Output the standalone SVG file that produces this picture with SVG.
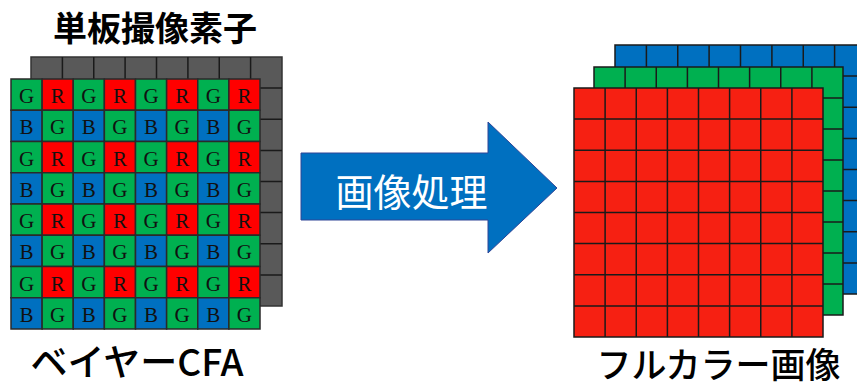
<svg xmlns="http://www.w3.org/2000/svg" xmlns:xlink="http://www.w3.org/1999/xlink" width="857" height="387" viewBox="0 0 857 387">
<style>
.lbl{font-family:"Noto Sans CJK JP","Noto Sans",sans-serif;fill:#000;text-anchor:middle}
.g{fill:#00B050}.r{fill:#FF0000}.b{fill:#0070C0}
.cell{stroke:#2a2a2a;stroke-width:1.5}
.ltr{font-family:"Liberation Serif",serif;font-size:21px;fill:#111;text-anchor:middle}
.grid{fill:none;stroke:#1a1a1a;stroke-width:1.5}
</style>
<defs>
<g id="rowA">
<rect class="cell g" x="11" y="0" width="31.125" height="31.25"/>
<rect class="cell r" x="42.125" y="0" width="31.125" height="31.25"/>
<rect class="cell g" x="73.25" y="0" width="31.125" height="31.25"/>
<rect class="cell r" x="104.375" y="0" width="31.125" height="31.25"/>
<rect class="cell g" x="135.5" y="0" width="31.125" height="31.25"/>
<rect class="cell r" x="166.625" y="0" width="31.125" height="31.25"/>
<rect class="cell g" x="197.75" y="0" width="31.125" height="31.25"/>
<rect class="cell r" x="228.875" y="0" width="31.125" height="31.25"/>
<text class="ltr" y="24" x="26.6">G</text><text class="ltr" y="24" x="57.7">R</text>
<text class="ltr" y="24" x="88.8">G</text><text class="ltr" y="24" x="119.9">R</text>
<text class="ltr" y="24" x="151.1">G</text><text class="ltr" y="24" x="182.2">R</text>
<text class="ltr" y="24" x="213.3">G</text><text class="ltr" y="24" x="244.4">R</text>
</g>
<g id="rowB">
<rect class="cell b" x="11" y="0" width="31.125" height="31.25"/>
<rect class="cell g" x="42.125" y="0" width="31.125" height="31.25"/>
<rect class="cell b" x="73.25" y="0" width="31.125" height="31.25"/>
<rect class="cell g" x="104.375" y="0" width="31.125" height="31.25"/>
<rect class="cell b" x="135.5" y="0" width="31.125" height="31.25"/>
<rect class="cell g" x="166.625" y="0" width="31.125" height="31.25"/>
<rect class="cell b" x="197.75" y="0" width="31.125" height="31.25"/>
<rect class="cell g" x="228.875" y="0" width="31.125" height="31.25"/>
<text class="ltr" y="24" x="26.6">B</text><text class="ltr" y="24" x="57.7">G</text>
<text class="ltr" y="24" x="88.8">B</text><text class="ltr" y="24" x="119.9">G</text>
<text class="ltr" y="24" x="151.1">B</text><text class="ltr" y="24" x="182.2">G</text>
<text class="ltr" y="24" x="213.3">B</text><text class="ltr" y="24" x="244.4">G</text>
</g>
</defs>

<g id="sensor-title"><text class="lbl" x="155" y="41" font-size="34" font-weight="bold">単板撮像素子</text></g>

<g id="sensor-back">
<rect x="31" y="57" width="251" height="249" fill="#595959" stroke="#333" stroke-width="1.5"/>
<path class="grid" stroke="#333" d="M62.4,57V306M93.75,57V306M125.1,57V306M156.5,57V306M187.9,57V306M219.25,57V306M250.6,57V306M31,88.1H282M31,119.25H282M31,150.4H282M31,181.5H282M31,212.6H282M31,243.75H282M31,274.9H282"/>
</g>

<g id="bayer-cfa">
<use xlink:href="#rowA" y="79"/>
<use xlink:href="#rowB" y="110.25"/>
<use xlink:href="#rowA" y="141.5"/>
<use xlink:href="#rowB" y="172.75"/>
<use xlink:href="#rowA" y="204"/>
<use xlink:href="#rowB" y="235.25"/>
<use xlink:href="#rowA" y="266.5"/>
<use xlink:href="#rowB" y="297.75"/>
</g>

<g id="bayer-label"><text class="lbl" x="137" y="376" font-size="37" font-weight="500">ベイヤーCFA</text></g>

<g id="connectors">
<g id="arrow">
<path d="M301,153L488,153L488,122L557,188L488,253L488,220L301,220Z" fill="#0070C0" stroke="#2F4596" stroke-width="1"/>
<text class="lbl" x="411.5" y="206" font-size="38" style="fill:#fff">画像処理</text>
</g>
</g>

<g id="full-blue">
<rect x="615" y="45" width="251" height="249" fill="#0070C0" stroke="#1a1a1a" stroke-width="1.5"/>
<path class="grid" d="M646.4,45V294M677.75,45V294M709.1,45V294M740.5,45V294M771.9,45V294M803.25,45V294M834.6,45V294M615,76.1H866M615,107.25H866M615,138.4H866M615,169.5H866M615,200.6H866M615,231.75H866M615,262.9H866"/>
</g>
<g id="full-green">
<rect x="594" y="67" width="249" height="248" fill="#00B050" stroke="#1a1a1a" stroke-width="1.5"/>
<path class="grid" d="M625.1,67V315M656.25,67V315M687.4,67V315M718.5,67V315M749.6,67V315M780.75,67V315M811.9,67V315M594,98H843M594,129H843M594,160H843M594,191H843M594,222H843M594,253H843M594,284H843"/>
</g>
<g id="full-red">
<rect x="574" y="88" width="249" height="249" fill="#F62012" stroke="#1a1a1a" stroke-width="1.5"/>
<path class="grid" d="M605.1,88V337M636.25,88V337M667.4,88V337M698.5,88V337M729.6,88V337M760.75,88V337M791.9,88V337M574,119.1H823M574,150.25H823M574,181.4H823M574,212.5H823M574,243.6H823M574,274.75H823M574,305.9H823"/>
</g>

<g id="full-label"><text class="lbl" x="718.5" y="378" font-size="35" font-weight="500">フルカラー画像</text></g>
</svg>
